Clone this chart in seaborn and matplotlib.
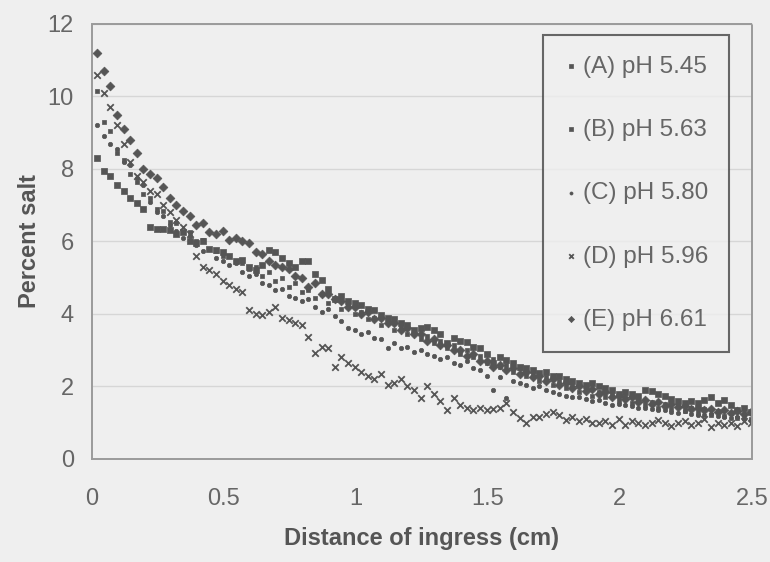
import numpy as np
import pandas as pd
import matplotlib.pyplot as plt
import seaborn as sns

# distance of ingress (cm), shared by all samples
distance = [
    0.020, 0.045, 0.070, 0.095, 0.120, 0.145, 0.170, 0.195, 0.220, 0.245,
    0.270, 0.295, 0.320, 0.345, 0.370, 0.395, 0.420, 0.445, 0.470, 0.495,
    0.520, 0.545, 0.570, 0.595, 0.620, 0.645, 0.670, 0.695, 0.720, 0.745,
    0.770, 0.795, 0.820, 0.845, 0.870, 0.895, 0.920, 0.945, 0.970, 0.995,
    1.020, 1.045, 1.070, 1.095, 1.120, 1.145, 1.170, 1.195, 1.220, 1.245,
    1.270, 1.295, 1.320, 1.345, 1.370, 1.395, 1.420, 1.445, 1.470, 1.495,
    1.520, 1.545, 1.570, 1.595, 1.620, 1.645, 1.670, 1.695, 1.720, 1.745,
    1.770, 1.795, 1.820, 1.845, 1.870, 1.895, 1.920, 1.945, 1.970, 1.995,
    2.020, 2.045, 2.070, 2.095, 2.120, 2.145, 2.170, 2.195, 2.220, 2.245,
    2.270, 2.295, 2.320, 2.345, 2.370, 2.395, 2.420, 2.445, 2.470, 2.495,
]

salt_a = [
    8.30, 7.95, 7.80, 7.55, 7.40, 7.20, 7.05, 6.90, 6.40, 6.35,
    6.35, 6.33, 6.20, 6.25, 6.00, 5.95, 6.00, 5.80, 5.77, 5.70,
    5.60, 5.45, 5.50, 5.30, 5.20, 5.35, 5.77, 5.70, 5.55, 5.40,
    5.30, 5.46, 5.46, 5.10, 4.95, 4.70, 4.40, 4.50, 4.35, 4.30,
    4.24, 4.15, 4.10, 3.97, 3.90, 3.85, 3.75, 3.70, 3.56, 3.60,
    3.65, 3.55, 3.45, 3.20, 3.35, 3.25, 3.23, 3.10, 3.06, 2.90,
    2.64, 2.80, 2.73, 2.65, 2.55, 2.50, 2.45, 2.37, 2.40, 2.30,
    2.30, 2.20, 2.15, 2.10, 2.04, 2.10, 2.00, 1.95, 1.90, 1.80,
    1.85, 1.80, 1.75, 1.90, 1.88, 1.80, 1.75, 1.65, 1.60, 1.54,
    1.60, 1.55, 1.62, 1.70, 1.55, 1.63, 1.50, 1.35, 1.40, 1.30,
]

salt_b = [
    10.15, 9.30, 9.05, 8.45, 8.25, 7.85, 7.65, 7.30, 7.20, 6.90,
    6.85, 6.55, 6.50, 6.25, 6.25, 6.00, 6.05, 5.80, 5.75, 5.60,
    5.60, 5.45, 5.40, 5.25, 5.30, 5.05, 5.15, 4.90, 5.00, 4.75,
    4.85, 4.60, 4.65, 4.45, 4.55, 4.30, 4.40, 4.15, 4.25, 4.00,
    4.05, 3.85, 3.90, 3.70, 3.80, 3.55, 3.65, 3.45, 3.50, 3.30,
    3.40, 3.20, 3.25, 3.05, 3.15, 2.90, 3.00, 2.80, 2.85, 2.65,
    2.75, 2.55, 2.60, 2.40, 2.50, 2.30, 2.35, 2.15, 2.25, 2.05,
    2.15, 1.95, 2.05, 1.85, 1.95, 1.75, 1.85, 1.70, 1.78, 1.60,
    1.70, 1.55, 1.65, 1.48, 1.58, 1.42, 1.52, 1.38, 1.48, 1.33,
    1.42, 1.28, 1.38, 1.22, 1.32, 1.18, 1.28, 1.12, 1.22, 1.10,
]

salt_c = [
    9.20, 8.90, 8.70, 8.55, 8.20, 8.10, 7.74, 7.56, 7.10, 6.80,
    6.70, 6.45, 6.30, 6.10, 6.15, 5.90, 5.75, 5.80, 5.55, 5.45,
    5.35, 5.40, 5.15, 5.05, 5.10, 4.85, 4.80, 4.65, 4.70, 4.50,
    4.45, 4.35, 4.40, 4.20, 4.05, 4.15, 3.95, 3.80, 3.60, 3.55,
    3.45, 3.50, 3.34, 3.30, 3.06, 3.20, 3.06, 3.10, 2.95, 3.00,
    2.90, 2.85, 2.75, 2.80, 2.65, 2.60, 2.70, 2.50, 2.45, 2.30,
    1.90, 2.25, 1.68, 2.15, 2.10, 2.05, 1.95, 2.00, 1.90, 1.85,
    1.80, 1.75, 1.70, 1.72, 1.65, 1.60, 1.62, 1.55, 1.50, 1.52,
    1.48, 1.45, 1.40, 1.42, 1.38, 1.35, 1.36, 1.30, 1.28, 1.32,
    1.25, 1.22, 1.20, 1.24, 1.18, 1.15, 1.12, 1.16, 1.10, 1.08,
]

salt_d = [
    10.60, 10.10, 9.70, 9.20, 8.70, 8.20, 7.80, 7.65, 7.40, 7.30,
    7.00, 6.80, 6.60, 6.40, 6.20, 5.60, 5.30, 5.20, 5.10, 4.90,
    4.80, 4.70, 4.60, 4.10, 4.00, 3.97, 4.05, 4.20, 3.90, 3.83,
    3.75, 3.70, 3.37, 2.92, 3.10, 3.06, 2.55, 2.80, 2.65, 2.55,
    2.40, 2.30, 2.20, 2.35, 2.05, 2.10, 2.20, 2.00, 1.90, 1.68,
    2.00, 1.80, 1.60, 1.35, 1.68, 1.50, 1.40, 1.35, 1.40, 1.35,
    1.38, 1.40, 1.55, 1.30, 1.13, 1.00, 1.15, 1.16, 1.25, 1.30,
    1.20, 1.08, 1.15, 1.05, 1.10, 1.00, 1.00, 1.05, 0.95, 1.10,
    0.94, 1.05, 1.00, 0.95, 1.00, 1.08, 0.98, 0.92, 1.00, 1.05,
    0.95, 1.00, 1.10, 0.88, 1.00, 0.95, 1.00, 0.90, 1.05, 1.00,
]

salt_e = [
    11.20, 10.70, 10.30, 9.50, 9.10, 8.80, 8.45, 8.00, 7.85, 7.75,
    7.50, 7.20, 7.00, 6.85, 6.70, 6.45, 6.50, 6.25, 6.20, 6.30,
    6.05, 6.10, 6.00, 5.95, 5.70, 5.65, 5.45, 5.35, 5.30, 5.25,
    5.05, 5.00, 4.75, 4.85, 4.55, 4.55, 4.40, 4.35, 4.20, 4.20,
    4.00, 4.05, 3.85, 3.90, 3.75, 3.75, 3.55, 3.60, 3.45, 3.45,
    3.25, 3.30, 3.15, 3.15, 3.00, 3.00, 2.85, 2.90, 2.70, 2.70,
    2.55, 2.60, 2.45, 2.50, 2.35, 2.40, 2.25, 2.30, 2.15, 2.20,
    2.05, 2.10, 1.95, 2.00, 1.88, 1.92, 1.80, 1.85, 1.72, 1.75,
    1.65, 1.70, 1.58, 1.62, 1.52, 1.58, 1.47, 1.52, 1.43, 1.47,
    1.38, 1.42, 1.34, 1.38, 1.30, 1.35, 1.28, 1.33, 1.25, 1.30,
]

labels = ['(A) pH 5.45', '(B) pH 5.63', '(C) pH 5.80', '(D) pH 5.96', '(E) pH 6.61']
series = [salt_a, salt_b, salt_c, salt_d, salt_e]
markers = ['s', 's', 'o', 'x', 'D']
msizes = [24, 12, 10, 22, 20]

bg = '#efefef'
ink = '#555555'

sns.set_style('white')
plt.rcParams['font.family'] = ['Liberation Sans', 'DejaVu Sans']

fig = plt.figure(figsize=(7.7, 5.62), dpi=100, facecolor=bg)
ax = fig.add_axes([0.1195, 0.1833, 0.857, 0.774])
ax.set_facecolor(bg)

for lab, vals, m, s in zip(labels, series, markers, msizes):
    df = pd.DataFrame({'distance': distance, 'salt': vals})
    if m == 'x':
        sns.scatterplot(data=df, x='distance', y='salt', marker=m, s=s,
                        color=ink, linewidth=1.3, label=lab, ax=ax)
    else:
        sns.scatterplot(data=df, x='distance', y='salt', marker=m, s=s,
                        color=ink, edgecolor=ink, linewidth=0.5, label=lab, ax=ax)

ax.set_xlim(0, 2.5)
ax.set_ylim(0, 12)
ax.set_xticks([0, 0.5, 1, 1.5, 2, 2.5])
ax.set_xticklabels(['0', '0.5', '1', '1.5', '2', '2.5'])
ax.set_yticks(range(0, 13, 2))
ax.yaxis.grid(True, color='#d6d6d6', linewidth=1)
ax.set_axisbelow(True)

for sp in ax.spines.values():
    sp.set_visible(True)
    sp.set_color('#9a9a9a')
    sp.set_linewidth(1.4)
    sp.set_linestyle((0, (1, 1)))

ax.tick_params(axis='both', colors='#9a9a9a', labelcolor='#666666',
               labelsize=17, length=4, width=1, direction='out')
ax.tick_params(axis='x', pad=17)
ax.tick_params(axis='y', pad=9)

ax.set_xlabel('Distance of ingress (cm)', fontsize=17, fontweight='bold',
              color=ink, labelpad=12)
ax.set_ylabel('Percent salt', fontsize=17, fontweight='bold', color=ink,
              labelpad=5)

leg = ax.legend(loc='upper left', bbox_to_anchor=(0.683, 0.975),
                borderaxespad=0, frameon=True, fancybox=False,
                facecolor=bg, edgecolor='#444444',
                fontsize=17.5, labelspacing=1.7, handletextpad=0.2,
                handlelength=0.6, borderpad=0.85, markerscale=0.7)
leg.get_frame().set_linewidth(1.5)
for t in leg.get_texts():
    t.set_color('#666666')

fig.savefig('out.png', dpi=100, facecolor=bg)
